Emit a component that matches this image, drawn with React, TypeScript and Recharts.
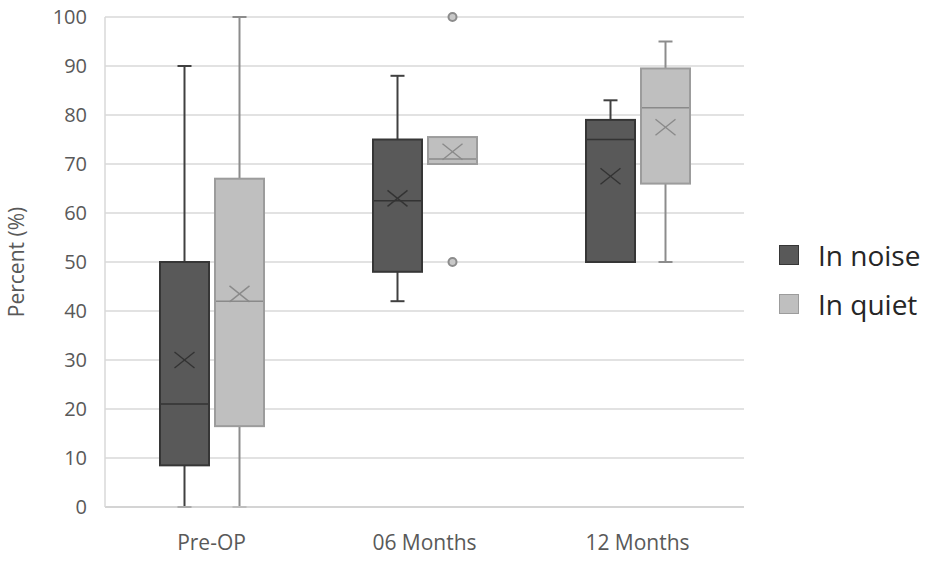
import { Bar, CartesianGrid, ComposedChart, Legend, XAxis, YAxis } from "recharts";

const categories = ["Pre-OP", "06 Months", "12 Months"];

const noiseMin = [0, 42, 50];
const noiseQ1 = [8.5, 48, 50];
const noiseMedian = [21, 62.5, 75];
const noiseQ3 = [50, 75, 79];
const noiseMax = [90, 88, 83];
const noiseMean = [30, 63, 67.5];
const noiseOutliers: number[][] = [[], [], []];

const quietMin = [0, 70, 50];
const quietQ1 = [16.5, 70, 66];
const quietMedian = [42, 71, 81.5];
const quietQ3 = [67, 75.5, 89.5];
const quietMax = [100, 75.5, 95];
const quietMean = [43.5, 72.5, 77.5];
const quietOutliers: number[][] = [[], [50, 100], []];

const yTicks = [0, 10, 20, 30, 40, 50, 60, 70, 80, 90, 100];

const COLORS = {
  noise: { fill: "#595959", stroke: "#363636", whisker: "#404040", mark: "#333333" },
  quiet: { fill: "#bfbfbf", stroke: "#9c9c9c", whisker: "#8c8c8c", mark: "#8a8a8a" },
  grid: "#d9d9d9",
  axis: "#595959",
};

type Stats = {
  min: number;
  q1: number;
  median: number;
  q3: number;
  max: number;
  mean: number;
  outliers: number[];
  low: number;
  high: number;
};

function stats(i: number, min: number[], q1: number[], med: number[], q3: number[], max: number[], mean: number[], out: number[][]): Stats {
  const all = [min[i], max[i], ...out[i]];
  return {
    min: min[i],
    q1: q1[i],
    median: med[i],
    q3: q3[i],
    max: max[i],
    mean: mean[i],
    outliers: out[i],
    low: Math.min(...all),
    high: Math.max(...all),
  };
}

const data = categories.map((category, i) => ({
  category,
  noise: stats(i, noiseMin, noiseQ1, noiseMedian, noiseQ3, noiseMax, noiseMean, noiseOutliers),
  quiet: stats(i, quietMin, quietQ1, quietMedian, quietQ3, quietMax, quietMean, quietOutliers),
}));

// the bar spans low..high; everything inside is placed by interpolating between its ends
function makeBoxShape(key: "noise" | "quiet") {
  const c = COLORS[key];
  return (props: any) => {
    const { x, y, width, height, payload } = props;
    const s: Stats = payload[key];
    const top = Math.min(y, y + height);
    const bottom = Math.max(y, y + height);
    const py = (v: number) =>
      s.high === s.low ? top : bottom - ((v - s.low) / (s.high - s.low)) * (bottom - top);
    const cx = x + width / 2;
    const cap = 7;
    const boxTop = py(s.q3);
    const boxBottom = py(s.q1);
    const my = py(s.mean);
    return (
      <g>
        {s.max > s.q3 && (
          <>
            <line x1={cx} x2={cx} y1={py(s.max)} y2={boxTop} stroke={c.whisker} strokeWidth={2} />
            <line x1={cx - cap} x2={cx + cap} y1={py(s.max)} y2={py(s.max)} stroke={c.whisker} strokeWidth={2} />
          </>
        )}
        {s.min < s.q1 && (
          <>
            <line x1={cx} x2={cx} y1={boxBottom} y2={py(s.min)} stroke={c.whisker} strokeWidth={2} />
            <line x1={cx - cap} x2={cx + cap} y1={py(s.min)} y2={py(s.min)} stroke={c.whisker} strokeWidth={2} />
          </>
        )}
        <rect
          x={x + 1}
          y={boxTop}
          width={width - 2}
          height={Math.max(boxBottom - boxTop, 1)}
          fill={c.fill}
          stroke={c.stroke}
          strokeWidth={2}
        />
        <line x1={x + 2} x2={x + width - 2} y1={py(s.median)} y2={py(s.median)} stroke={c.mark} strokeWidth={1.5} />
        <line x1={cx - 10} x2={cx + 10} y1={my - 8} y2={my + 8} stroke={c.mark} strokeWidth={1.5} />
        <line x1={cx - 10} x2={cx + 10} y1={my + 8} y2={my - 8} stroke={c.mark} strokeWidth={1.5} />
        {s.outliers.map((o) => (
          <circle key={o} cx={cx} cy={py(o)} r={4} fill="#c8c8c8" stroke={c.whisker} strokeWidth={2} />
        ))}
      </g>
    );
  };
}

function LegendContent(props: any) {
  const payload = props.payload ?? [];
  return (
    <div style={{ fontFamily: "'Open Sans', sans-serif" }}>
      {payload.map((p: any) => (
        <div key={p.value} style={{ display: "flex", alignItems: "center", height: 49 }}>
          <span
            style={{
              display: "inline-block",
              width: 18,
              height: 18,
              background: p.color,
              border: `1px solid ${p.value === "In noise" ? COLORS.noise.stroke : COLORS.quiet.stroke}`,
              marginRight: 19,
            }}
          />
          <span style={{ fontSize: 28, lineHeight: 1, color: "#262626" }}>{p.value}</span>
        </div>
      ))}
    </div>
  );
}

export default function App() {
  return (
    <div style={{ position: "absolute", left: 0, top: 0, background: "#fff" }}>
      <ComposedChart
        width={935}
        height={561}
        data={data}
        margin={{ top: 17, right: 191, bottom: 24, left: 0 }}
        barSize={51}
        barGap={4}
        style={{ fontFamily: "'Open Sans', sans-serif" }}
      >
        <CartesianGrid vertical={false} stroke={COLORS.grid} strokeWidth={1.5} />
        <XAxis
          dataKey="category"
          height={30}
          tick={{ fill: COLORS.axis, fontSize: 21 }}
          tickLine={false}
          tickMargin={22}
          axisLine={{ stroke: "#cfcfcf", strokeWidth: 1.5 }}
        />
        <YAxis
          domain={[0, 100]}
          ticks={yTicks}
          width={105}
          tick={{ fill: COLORS.axis, fontSize: 20 }}
          tickLine={false}
          tickMargin={12}
          axisLine={{ stroke: COLORS.grid, strokeWidth: 1.5 }}
          label={{
            value: "Percent (%)",
            angle: -90,
            position: "insideLeft",
            offset: 17,
            fill: COLORS.axis,
            fontSize: 21,
            style: { textAnchor: "middle" },
          }}
        />
        <Legend
          layout="vertical"
          align="center"
          verticalAlign="middle"
          content={<LegendContent />}
          wrapperStyle={{ left: 779, top: 230, width: 156, height: 100 }}
        />
        <Bar
          dataKey={(d: any) => [d.noise.low, d.noise.high]}
          name="In noise"
          fill={COLORS.noise.fill}
          shape={makeBoxShape("noise")}
          isAnimationActive={false}
        />
        <Bar
          dataKey={(d: any) => [d.quiet.low, d.quiet.high]}
          name="In quiet"
          fill={COLORS.quiet.fill}
          shape={makeBoxShape("quiet")}
          isAnimationActive={false}
        />
      </ComposedChart>
    </div>
  );
}
